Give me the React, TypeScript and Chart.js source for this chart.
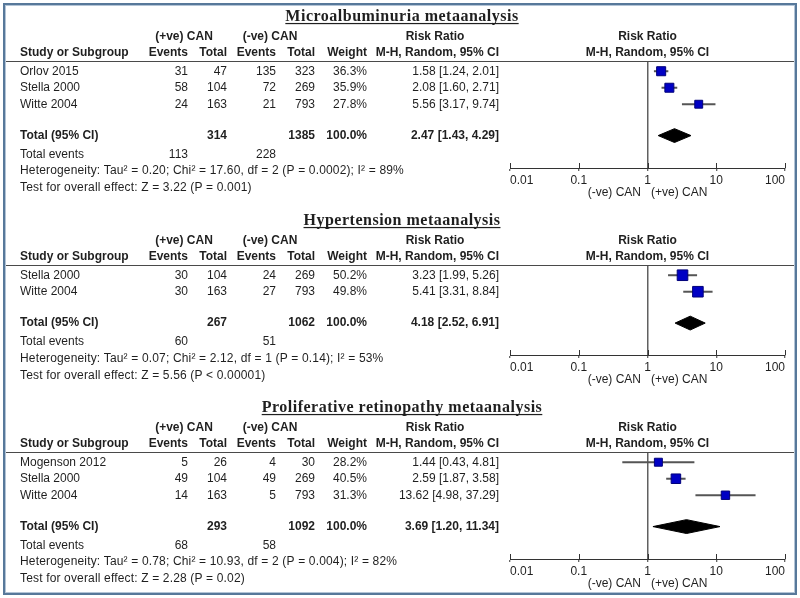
import React, { useEffect, useRef } from 'react';
import { Chart, registerables } from 'chart.js';

Chart.register(...registerables);

// ---------- shared axis ----------
const TICK_VALUES = [0.01, 0.1, 1, 10, 100];
const TICK_LABELS = ['0.01', '0.1', '1', '10', '100'];
const AXIS_TITLE = '(-ve) CAN   (+ve) CAN';

// ---------- Microalbuminuria ----------
const microTitle = 'Microalbuminuria metaanalysis';
const microStudies = ['Orlov 2015', 'Stella 2000', 'Witte 2004'];
const microPosEvents = [31, 58, 24];
const microPosTotals = [47, 104, 163];
const microNegEvents = [135, 72, 21];
const microNegTotals = [323, 269, 793];
const microWeights = [36.3, 35.9, 27.8];
const microRR = [1.58, 2.08, 5.56];
const microLower = [1.24, 1.6, 3.17];
const microUpper = [2.01, 2.71, 9.74];
const microPooled = [2.47, 1.43, 4.29];
const microSums = [314, 1385];
const microEventSums = [113, 228];
const microHet = 'Heterogeneity: Tau\u00b2 = 0.20; Chi\u00b2 = 17.60, df = 2 (P = 0.0002); I\u00b2 = 89%';
const microTest = 'Test for overall effect: Z = 3.22 (P = 0.001)';

// ---------- Hypertension ----------
const hyperTitle = 'Hypertension metaanalysis';
const hyperStudies = ['Stella 2000', 'Witte 2004'];
const hyperPosEvents = [30, 30];
const hyperPosTotals = [104, 163];
const hyperNegEvents = [24, 27];
const hyperNegTotals = [269, 793];
const hyperWeights = [50.2, 49.8];
const hyperRR = [3.23, 5.41];
const hyperLower = [1.99, 3.31];
const hyperUpper = [5.26, 8.84];
const hyperPooled = [4.18, 2.52, 6.91];
const hyperSums = [267, 1062];
const hyperEventSums = [60, 51];
const hyperHet = 'Heterogeneity: Tau\u00b2 = 0.07; Chi\u00b2 = 2.12, df = 1 (P = 0.14); I\u00b2 = 53%';
const hyperTest = 'Test for overall effect: Z = 5.56 (P < 0.00001)';

// ---------- Proliferative retinopathy ----------
const retinoTitle = 'Proliferative retinopathy metaanalysis';
const retinoStudies = ['Mogenson 2012', 'Stella 2000', 'Witte 2004'];
const retinoPosEvents = [5, 49, 14];
const retinoPosTotals = [26, 104, 163];
const retinoNegEvents = [4, 49, 5];
const retinoNegTotals = [30, 269, 793];
const retinoWeights = [28.2, 40.5, 31.3];
const retinoRR = [1.44, 2.59, 13.62];
const retinoLower = [0.43, 1.87, 4.98];
const retinoUpper = [4.81, 3.58, 37.29];
const retinoPooled = [3.69, 1.2, 11.34];
const retinoSums = [293, 1092];
const retinoEventSums = [68, 58];
const retinoHet = 'Heterogeneity: Tau\u00b2 = 0.78; Chi\u00b2 = 10.93, df = 2 (P = 0.004); I\u00b2 = 82%';
const retinoTest = 'Test for overall effect: Z = 2.28 (P = 0.02)';

// ---------- layout & style ----------
const FONT = "Arial, 'Liberation Sans', sans-serif";
const TITLE_FONT = "bold 16px 'Liberation Serif', 'Times New Roman', serif";
const TEXT = '#1f1f1f';
const ROW_PX = 16.5;
const ROW_TOP = -0.62;
const AXIS_BOX = 32;
const SQUARE_K = 1.5;
const DIAMOND_HALF = 0.42;
const COL = { label: 20, ev1: 188, tot1: 227, ev2: 276, tot2: 315, weight: 367, rr: 499, rrHead: 435, pos: 184, neg: 270, title: 402 };

const panels = [
  {
    title: microTitle, studies: microStudies, posEvents: microPosEvents, posTotals: microPosTotals,
    negEvents: microNegEvents, negTotals: microNegTotals, weights: microWeights, rr: microRR,
    lower: microLower, upper: microUpper, pooled: microPooled, sums: microSums, eventSums: microEventSums,
    het: microHet, test: microTest,
    layout: { top: 0, height: 200, headerY: 61, axisY: 168 },
  },
  {
    title: hyperTitle, studies: hyperStudies, posEvents: hyperPosEvents, posTotals: hyperPosTotals,
    negEvents: hyperNegEvents, negTotals: hyperNegTotals, weights: hyperWeights, rr: hyperRR,
    lower: hyperLower, upper: hyperUpper, pooled: hyperPooled, sums: hyperSums, eventSums: hyperEventSums,
    het: hyperHet, test: hyperTest,
    layout: { top: 200, height: 192, headerY: 265, axisY: 355 },
  },
  {
    title: retinoTitle, studies: retinoStudies, posEvents: retinoPosEvents, posTotals: retinoPosTotals,
    negEvents: retinoNegEvents, negTotals: retinoNegTotals, weights: retinoWeights, rr: retinoRR,
    lower: retinoLower, upper: retinoUpper, pooled: retinoPooled, sums: retinoSums, eventSums: retinoEventSums,
    het: retinoHet, test: retinoTest,
    layout: { top: 392, height: 206, headerY: 452, axisY: 559 },
  },
];

const fmtRR = (v: number, lo: number, hi: number) => `${v.toFixed(2)} [${lo.toFixed(2)}, ${hi.toFixed(2)}]`;

function makeTablePlugin(p: any) {
  return {
    id: 'forestTable',
    afterDraw(chart: any) {
      const { ctx, chartArea, scales } = chart;
      const ys = scales.y;
      const xs = scales.x;
      const y = (r: number) => ys.getPixelForValue(r);
      const n = p.studies.length;
      const normal = `12px ${FONT}`;
      const bold = `bold 12px ${FONT}`;
      const text = (s: string, x: number, yy: number, align: CanvasTextAlign, font: string) => {
        ctx.font = font;
        ctx.textAlign = align;
        ctx.fillText(s, x, yy);
      };
      ctx.save();
      ctx.fillStyle = TEXT;
      ctx.textBaseline = 'middle';

      // header rule
      ctx.strokeStyle = '#4a4a4a';
      ctx.lineWidth = 1;
      const hy = Math.round(chartArea.top) + 0.5;
      ctx.beginPath();
      ctx.moveTo(5, hy);
      ctx.lineTo(795, hy);
      ctx.stroke();

      // upward part of the axis tick marks
      ctx.strokeStyle = '#333';
      xs.ticks.forEach((t: any) => {
        const px = Math.round(xs.getPixelForValue(t.value)) + 0.5;
        ctx.beginPath();
        ctx.moveTo(px, chartArea.bottom);
        ctx.lineTo(px, chartArea.bottom - 5);
        ctx.stroke();
      });

      // title (underlined serif)
      ctx.font = TITLE_FONT;
      (ctx as any).letterSpacing = '0.5px';
      ctx.textAlign = 'center';
      ctx.textBaseline = 'alphabetic';
      const tBase = y(-3.35) + 5;
      ctx.fillText(p.title, COL.title, tBase);
      const tw = ctx.measureText(p.title).width;
      ctx.fillRect(COL.title - tw / 2, tBase + 2, tw, 1.2);
      (ctx as any).letterSpacing = '0px';
      ctx.textBaseline = 'middle';

      // column headers
      const gy = y(-2.1);
      const hr = y(-1.12);
      text('(+ve) CAN', COL.pos, gy, 'center', bold);
      text('(-ve) CAN', COL.neg, gy, 'center', bold);
      text('Risk Ratio', COL.rrHead, gy, 'center', bold);
      const one = xs.getPixelForValue(1);
      text('Risk Ratio', one, gy, 'center', bold);
      text('Study or Subgroup', COL.label, hr, 'left', bold);
      text('Events', COL.ev1, hr, 'right', bold);
      text('Total', COL.tot1, hr, 'right', bold);
      text('Events', COL.ev2, hr, 'right', bold);
      text('Total', COL.tot2, hr, 'right', bold);
      text('Weight', COL.weight, hr, 'right', bold);
      text('M-H, Random, 95% CI', COL.rr, hr, 'right', bold);
      text('M-H, Random, 95% CI', one, hr, 'center', bold);

      // study rows
      p.studies.forEach((s: string, i: number) => {
        const ry = y(i);
        text(s, COL.label, ry, 'left', normal);
        text(String(p.posEvents[i]), COL.ev1, ry, 'right', normal);
        text(String(p.posTotals[i]), COL.tot1, ry, 'right', normal);
        text(String(p.negEvents[i]), COL.ev2, ry, 'right', normal);
        text(String(p.negTotals[i]), COL.tot2, ry, 'right', normal);
        text(`${p.weights[i].toFixed(1)}%`, COL.weight, ry, 'right', normal);
        text(fmtRR(p.rr[i], p.lower[i], p.upper[i]), COL.rr, ry, 'right', normal);
      });

      // total row
      const ty = y(n + 0.9);
      const wsum = p.weights.reduce((a: number, b: number) => a + b, 0);
      text('Total (95% CI)', COL.label, ty, 'left', bold);
      text(String(p.sums[0]), COL.tot1, ty, 'right', bold);
      text(String(p.sums[1]), COL.tot2, ty, 'right', bold);
      text(`${wsum.toFixed(1)}%`, COL.weight, ty, 'right', bold);
      text(fmtRR(p.pooled[0], p.pooled[1], p.pooled[2]), COL.rr, ty, 'right', bold);

      // events + statistics
      const ey = y(n + 2.05);
      text('Total events', COL.label, ey, 'left', normal);
      text(String(p.eventSums[0]), COL.ev1, ey, 'right', normal);
      text(String(p.eventSums[1]), COL.ev2, ey, 'right', normal);
      (ctx as any).letterSpacing = '0.16px';
      text(p.het, COL.label, y(n + 3.05), 'left', normal);
      text(p.test, COL.label, y(n + 4.08), 'left', normal);
      (ctx as any).letterSpacing = '0px';

      ctx.restore();
    },
  };
}

function buildConfig(p: any): any {
  const n = p.studies.length;
  const L = p.layout;
  const yMax = ROW_TOP + (L.axisY - L.headerY) / ROW_PX;
  const totalRow = n + 0.9;
  const [est, lo, hi] = p.pooled;

  const squares = {
    label: 'Studies',
    data: p.rr.map((v: number, i: number) => ({ x: v, y: i })),
    pointStyle: 'rect',
    pointRadius: p.weights.map((w: number) => (SQUARE_K * Math.sqrt(w)) / Math.SQRT2),
    backgroundColor: '#0000c4',
    borderColor: '#00007a',
    borderWidth: 1,
    showLine: false,
    order: 0,
  };
  const cis = p.lower.map((l: number, i: number) => ({
    label: `CI ${i}`,
    data: [{ x: l, y: i }, { x: p.upper[i], y: i }],
    showLine: true,
    borderColor: '#555555',
    borderWidth: 2,
    pointRadius: 0,
    order: 2,
  }));
  const diamond = {
    label: 'Pooled',
    data: [
      { x: lo, y: totalRow },
      { x: est, y: totalRow - DIAMOND_HALF },
      { x: hi, y: totalRow },
      { x: est, y: totalRow + DIAMOND_HALF },
      { x: lo, y: totalRow },
    ],
    showLine: true,
    fill: 'shape',
    backgroundColor: '#000000',
    borderColor: '#000000',
    borderWidth: 1,
    pointRadius: 0,
    tension: 0,
    order: 1,
  };

  return {
    type: 'scatter',
    data: { datasets: [squares, diamond, ...cis] },
    options: {
      animation: false,
      responsive: false,
      events: [],
      layout: {
        padding: {
          left: 510,
          right: 15,
          top: L.headerY - L.top,
          bottom: L.height - AXIS_BOX - (L.axisY - L.top),
        },
      },
      plugins: { legend: { display: false }, tooltip: { enabled: false }, title: { display: false } },
      scales: {
        x: {
          type: 'logarithmic',
          position: 'bottom',
          min: 0.01,
          max: 100,
          afterBuildTicks: (scale: any) => {
            scale.ticks = TICK_VALUES.map((v) => ({ value: v }));
          },
          afterFit: (scale: any) => {
            scale.height = AXIS_BOX;
          },
          ticks: {
            callback: (_v: any, i: number) => TICK_LABELS[i],
            font: { family: FONT, size: 12 },
            color: TEXT,
            padding: 2,
            align: 'inner',
            maxRotation: 0,
            autoSkip: false,
          },
          grid: {
            color: (c: any) => (c.tick && c.tick.value === 1 ? '#606060' : 'rgba(0,0,0,0)'),
            lineWidth: 1.5,
            drawOnChartArea: true,
            drawTicks: true,
            tickLength: 3,
            tickColor: '#333333',
            tickWidth: 1,
          },
          border: { display: true, color: '#333333', width: 1 },
          title: {
            display: true,
            text: AXIS_TITLE,
            font: { family: FONT, size: 12 },
            color: TEXT,
            padding: 0,
          },
        },
        y: {
          type: 'linear',
          display: false,
          reverse: true,
          min: ROW_TOP,
          max: yMax,
        },
      },
    },
    plugins: [makeTablePlugin(p)],
  };
}

function ForestPanel({ panel }: { panel: any }) {
  const ref = useRef<HTMLCanvasElement | null>(null);
  useEffect(() => {
    if (!ref.current) return;
    const chart = new Chart(ref.current, buildConfig(panel));
    return () => chart.destroy();
  }, [panel]);
  return (
    <canvas
      ref={ref}
      width={800}
      height={panel.layout.height}
      style={{ position: 'absolute', left: 0, top: panel.layout.top, display: 'block' }}
    />
  );
}

export default function App() {
  return (
    <div style={{ position: 'absolute', left: 0, top: 0, width: 800, height: 598, background: '#ffffff', overflow: 'hidden' }}>
      {panels.map((p, i) => (
        <ForestPanel key={i} panel={p} />
      ))}
      <div
        style={{
          position: 'absolute',
          left: 3,
          top: 3,
          width: 794,
          height: 592,
          boxSizing: 'border-box',
          border: '2px solid #57789a',
          boxShadow: 'inset 0 0 0 1px #b3c4d6',
          pointerEvents: 'none',
        }}
      />
    </div>
  );
}
